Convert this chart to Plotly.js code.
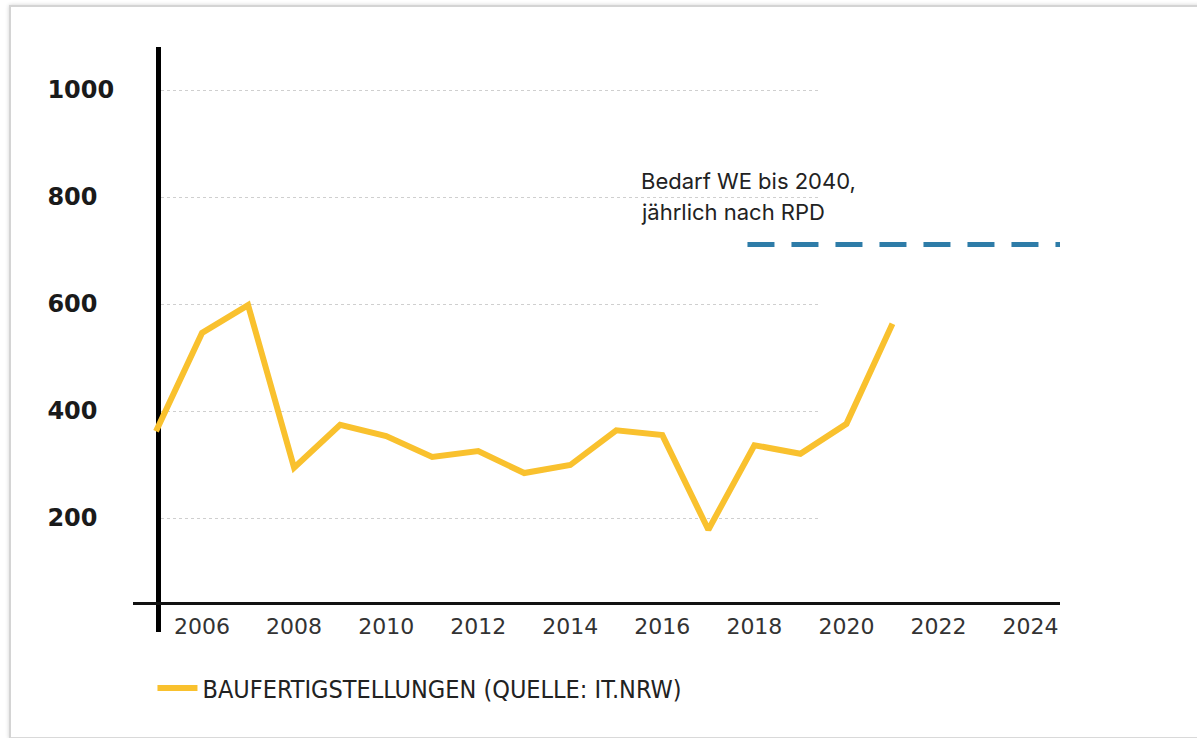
<!DOCTYPE html>
<html>
<head>
<meta charset="utf-8">
<script src="https://cdn.plot.ly/plotly-3.0.1.min.js"></script>
<style>
  html, body { margin: 0; padding: 0; background: #ffffff; }
  #wrap { position: relative; width: 1197px; height: 738px; overflow: hidden; background: #ffffff; }
  #frame { position: absolute; left: 9px; top: 5px; width: 1200px; height: 730px;
           border-left: 2px solid #d4d4d4; border-top: 2px solid #d4d4d4; border-bottom: 2px solid #d9d9d9;
           box-shadow: 0 0 4px rgba(0,0,0,0.18); background: #ffffff; }
  #chart { position: absolute; left: 0; top: 0; width: 1197px; height: 738px; }
</style>
</head>
<body>
<div id="wrap">
  <div id="frame"></div>
  <div id="chart"></div>
</div>
<script>
// ---- data ----
const years = [2005, 2006, 2007, 2008, 2009, 2010, 2011, 2012, 2013, 2014, 2015, 2016, 2017, 2018, 2019, 2020, 2021];
const completions = [362, 546, 598, 294, 374, 353, 314, 325, 284, 299, 364, 355, 178, 336, 320, 376, 563];
const seriesName = 'BAUFERTIGSTELLUNGEN (QUELLE: IT.NRW)';

const demandYears = [2017.85, 2024.7];
const demandValues = [711, 711];
const demandLabel1 = 'Bedarf WE bis 2040,';
const demandLabel2 = 'jährlich nach RPD';

const xTickVals = [2006, 2008, 2010, 2012, 2014, 2016, 2018, 2020, 2022, 2024];
const xTickLabels = ['2006', '2008', '2010', '2012', '2014', '2016', '2018', '2020', '2022', '2024'];
const yTickVals = [200, 400, 600, 800, 1000];
const yTickLabels = ['200', '400', '600', '800', '1000'];

// ---- chart ----
const yRange = [-13.1, 1080.4];
const FS = '\u2007';
const yTickText = yTickLabels.map(t => t + FS.repeat(4 - t.length));

const traces = [
  { x: [], y: [], xaxis: 'x', yaxis: 'y', type: 'scatter', mode: 'lines', showlegend: false, hoverinfo: 'skip' },
  {
    x: years, y: completions, xaxis: 'x2', yaxis: 'y2', type: 'scatter', mode: 'lines',
    name: seriesName, line: { color: '#f9c12e', width: 6 }
  },
  {
    x: demandYears, y: demandValues, xaxis: 'x2', yaxis: 'y2', type: 'scatter', mode: 'lines',
    showlegend: false, line: { color: '#2e7ca8', width: 5, dash: '27px,17px' }, cliponaxis: false
  }
];

const layout = {
  width: 1197, height: 738,
  margin: { l: 133, r: 137, t: 47, b: 106 },
  paper_bgcolor: 'rgba(0,0,0,0)',
  plot_bgcolor: 'rgba(0,0,0,0)',
  font: { family: 'DejaVu Sans, sans-serif', color: '#222222' },
  showlegend: true,
  xaxis: {
    domain: [0.0302, 0.7395], range: [0, 1], visible: false, fixedrange: true
  },
  yaxis: {
    anchor: 'x', range: yRange, tickvals: yTickVals, ticktext: yTickText,
    showgrid: true, gridcolor: '#cfcfcf', griddash: 'dot', gridwidth: 1,
    showline: true, linecolor: '#000000', linewidth: 5, zeroline: false, ticks: '',
    ticklabelstandoff: 37,
    tickfont: { family: 'DejaVu Sans, sans-serif', size: 24, weight: 'bold', color: '#1a1a1a' }
  },
  xaxis2: {
    domain: [0, 1], range: [2004.5, 2024.64], anchor: 'free', position: 0.0496,
    tickvals: xTickVals, ticktext: xTickLabels, ticks: '',
    showline: true, linecolor: '#111111', linewidth: 3.5, showgrid: false, zeroline: false,
    tickfont: { family: 'DejaVu Sans, sans-serif', size: 22, color: '#333333' },
    ticklabelstandoff: 2
  },
  yaxis2: {
    anchor: 'x2', range: yRange, visible: false, showgrid: false, zeroline: false
  },
  legend: {
    orientation: 'h', x: 0.021, xanchor: 'left', y: -0.096, yanchor: 'middle',
    font: { family: 'Liberation Sans Narrow, DejaVu Sans Condensed, sans-serif', size: 25, color: '#222222' },
    itemwidth: 40, bgcolor: 'rgba(0,0,0,0)'
  },
  annotations: [
    { xref: 'paper', yref: 'paper', x: 0.546, y: 0.771, xanchor: 'left', yanchor: 'middle',
      text: demandLabel1, showarrow: false, align: 'left',
      font: { family: 'Inter, Roboto, sans-serif', size: 22, color: '#222222' } },
    { xref: 'paper', yref: 'paper', x: 0.546, y: 0.718, xanchor: 'left', yanchor: 'middle',
      text: demandLabel2, showarrow: false, align: 'left',
      font: { family: 'Inter, Roboto, sans-serif', size: 22, color: '#222222' } }
  ]
};

Plotly.newPlot('chart', traces, layout, { displayModeBar: false, staticPlot: true });
</script>
</body>
</html>
